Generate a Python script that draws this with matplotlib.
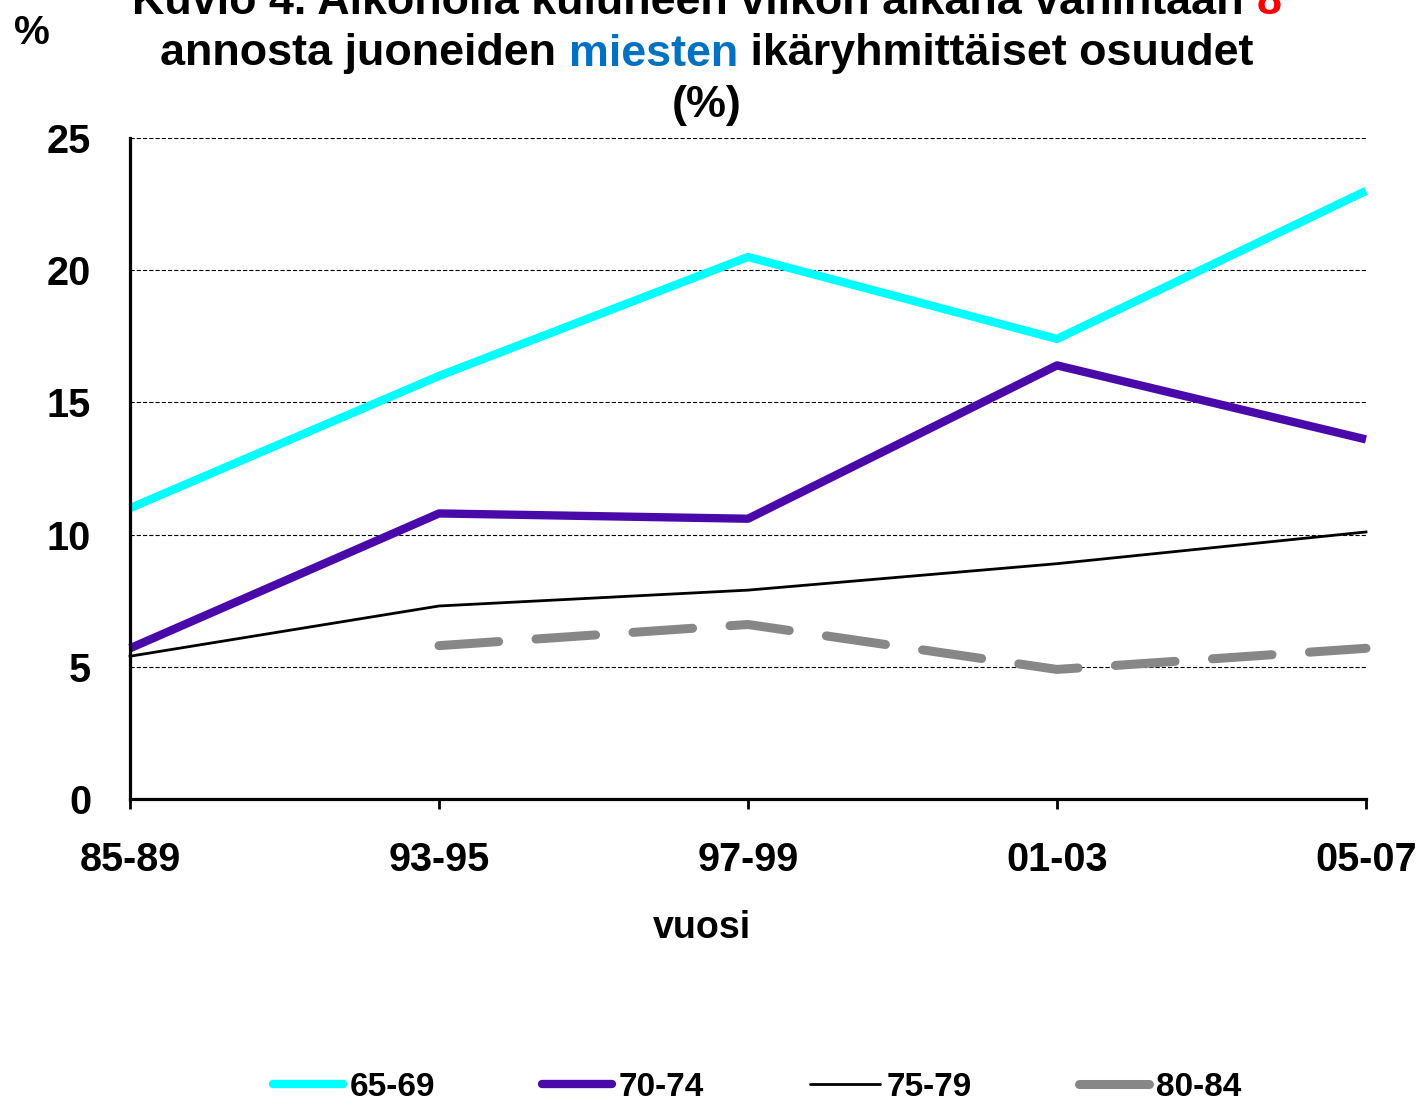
import matplotlib
matplotlib.use("Agg")
import matplotlib.pyplot as plt
import numpy as np

periods = ["85-89", "93-95", "97-99", "01-03", "05-07"]
s65_69 = [11.0, 16.0, 20.5, 17.4, 23.0]
s70_74 = [5.7, 10.8, 10.6, 16.4, 13.6]
s75_79 = [5.4, 7.3, 7.9, 8.9, 10.1]
s80_84 = [np.nan, 5.8, 6.6, 4.9, 5.7]
series_labels = ["65-69", "70-74", "75-79", "80-84"]
yticks = [0, 5, 10, 15, 20, 25]

plt.rcParams['lines.scale_dashes'] = False
W, H = 1419, 1103
fig = plt.figure(figsize=(W / 100, H / 100), dpi=100)
ax = fig.add_axes([130 / W, 1 - 799 / H, (1366 - 130) / W, (799 - 138) / H])

fam = ["Liberation Sans", "DejaVu Sans"]

x = np.arange(len(periods))
ax.plot(x, s65_69, color="#00FFFF", lw=6, label=series_labels[0], clip_on=False, solid_capstyle='butt')
ax.plot(x, s70_74, color="#4A0AAA", lw=6, label=series_labels[1], clip_on=False, solid_capstyle='butt')
ax.plot(x, s75_79, color="black", lw=2, label=series_labels[2], clip_on=False)
ax.plot(x, s80_84, color="#878787", lw=6.5, label=series_labels[3], clip_on=False,
        dashes=(43, 27), dash_capstyle='round')

ax.set_xlim(0, 4)
ax.set_ylim(0, 25)
ax.set_yticks(yticks)
ax.set_xticks(x)
ax.set_xticklabels(periods)
for lab in ax.get_xticklabels() + ax.get_yticklabels():
    lab.set_fontfamily(fam)
    lab.set_fontweight("bold")
    lab.set_fontsize(28.5)
ax.tick_params(axis='x', direction='out', length=7, width=2, pad=23)
ax.tick_params(axis='y', length=0, pad=28)
ax.grid(axis='y', color='black', linestyle=(0, (3, 1.5)), linewidth=0.8)
ax.set_axisbelow(True)
for s in ["top", "right"]:
    ax.spines[s].set_visible(False)
for s in ["left", "bottom"]:
    ax.spines[s].set_linewidth(2.3)

ax.set_xlabel("vuosi", fontsize=27, fontweight="bold", family=fam)
ax.xaxis.set_label_coords((702 - 130) / 1236, -(928 - 799) / 661)
ax.xaxis.label.set_va("center")

fig.text(32 / W, 1 - 33 / H, "%", fontsize=29, fontweight="bold", family=fam, ha="center", va="center")

# Title with coloured words
renderer = fig.canvas.get_renderer()
def colored_line(parts, yc, size=32.3):
    texts = []
    for s, c in parts:
        t = fig.text(0, yc, s, color=c, fontsize=size, fontweight="bold", family=fam, va="center", ha="left")
        texts.append(t)
    widths = [t.get_window_extent(renderer).width for t in texts]
    total = sum(widths)
    x0 = 707 - total / 2
    for t, w in zip(texts, widths):
        t.set_x(x0 / W)
        x0 += w

colored_line([("Kuvio 4. Alkoholia kuluneen viikon aikana vähintään ", "black"), ("8", "red")], 1 - 3 / H)
colored_line([("annosta juoneiden ", "black"), ("miesten", "#0070C0"), (" ikäryhmittäiset osuudet", "black")], 1 - 54 / H)
colored_line([("(%)", "black")], 1 - 105 / H)

leg = fig.legend(loc="center", bbox_to_anchor=(757 / W, 1 - 1087 / H), ncol=4, frameon=False,
                 handlelength=2.1, handletextpad=0.2, columnspacing=3.2,
                 prop=dict(family=fam, weight="bold", size=24))
leg.legend_handles[3].set_linestyle('-')
for h in leg.legend_handles:
    h.set_solid_capstyle('round')

fig.savefig("out.png", dpi=100)
